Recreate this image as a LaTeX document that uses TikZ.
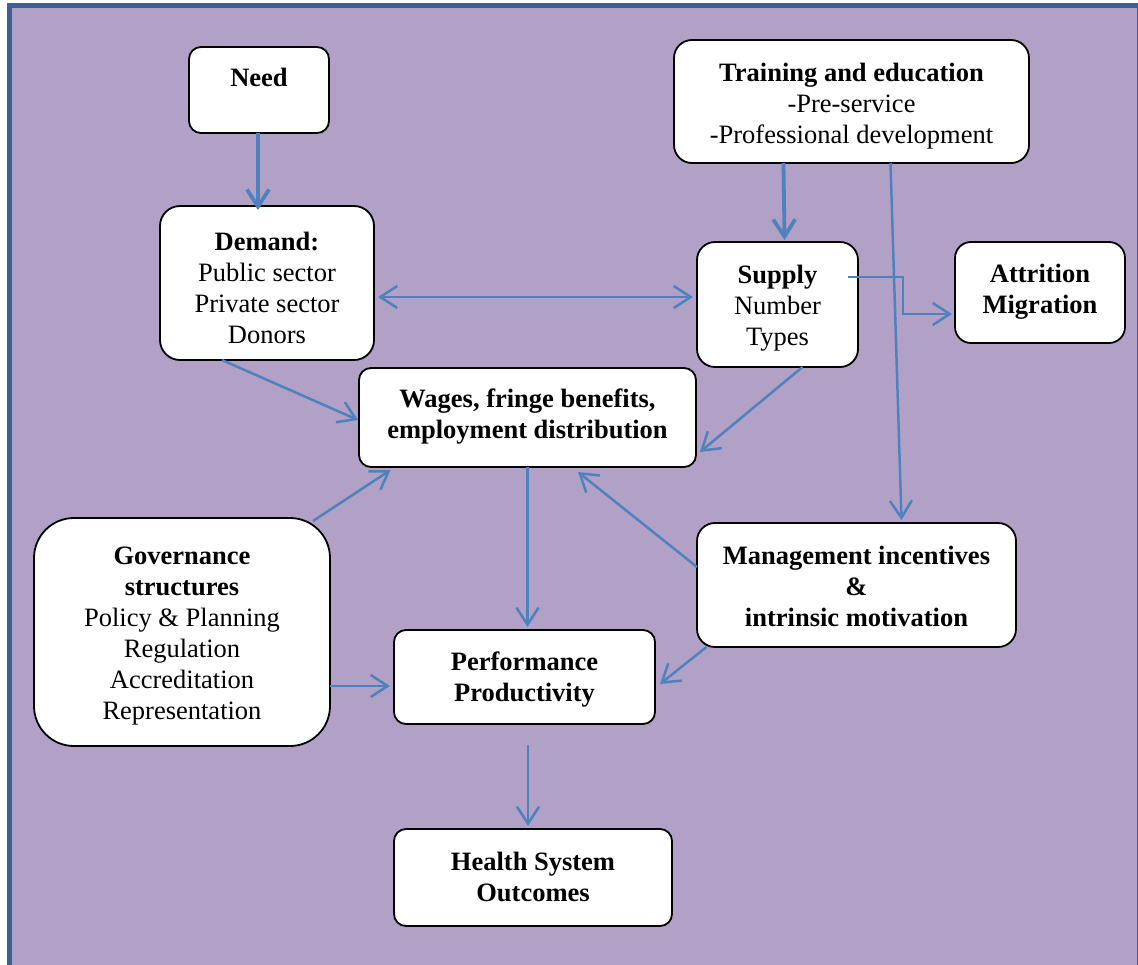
\documentclass[tikz,border=0pt]{standalone}
\usepackage{fontspec}
\setmainfont{Liberation Serif}
\usetikzlibrary{arrows.meta,calc}
\definecolor{bgpurple}{RGB}{177,161,199}
\definecolor{framebl}{RGB}{63,97,145}
\definecolor{arrowbl}{RGB}{79,129,189}
\newcommand\bxt[4]{\parbox[c][#2pt][t]{#1pt}{\centering\vspace*{#3pt}\strut #4}}
\tikzset{
  rbox/.style={draw=black, line width=1.8pt, fill=white, inner sep=0pt, outer sep=0pt,
    rounded corners=#1, anchor=north west, font=\fontsize{26.5}{31}\selectfont},
  rbox/.default=14pt,
  conn/.style={draw=arrowbl, line width=2.5pt, -{Straight Barb[length=17pt,width=22pt]}},
  connthick/.style={conn, line width=3.8pt},
  conntwo/.style={draw=arrowbl, line width=2.5pt, {Straight Barb[length=17pt,width=22pt]}-{Straight Barb[length=17pt,width=22pt]}},
}
\begin{document}
\begin{tikzpicture}[x=1pt,y=-1pt]
\useasboundingbox (0,0) rectangle (1138,964);
\clip (0,0) rectangle (1138,964);
\fill[bgpurple] (9.5,5.5) rectangle (1139.5,975);
\draw[framebl, line width=5pt] (9.5,5.5) rectangle (1139.5,975);

\node[rbox=12pt] (need) at (189,47) {\bxt{140}{86}{18}{\textbf{Need}}};
\node[rbox=18pt] (train) at (674,40) {\bxt{355}{123}{20}{\textbf{Training and education}\\-Pre-service\\-Professional development}};
\node[rbox=20pt] (demand) at (160,206) {\bxt{214}{154}{23}{\textbf{Demand:}\\Public sector\\Private sector\\Donors}};
\node[rbox=18pt] (supply) at (697,242) {\bxt{161}{125}{20}{\textbf{Supply}\\Number\\Types}};
\node[rbox=16pt] (attr) at (955,242) {\bxt{170}{101}{19}{\textbf{Attrition}\\\textbf{Migration}}};
\node[rbox=12pt] (wages) at (359,368) {\bxt{337}{99}{18}{\textbf{Wages, fringe benefits,}\\\textbf{employment distribution}}};
\node[rbox=40pt] (gov) at (34,518) {\bxt{296}{228}{25}{\textbf{Governance}\\\textbf{structures}\\Policy \& Planning\\Regulation\\Accreditation\\Representation}};
\node[rbox=18pt] (mgmt) at (697,523) {\bxt{319}{124}{20}{\textbf{Management incentives}\\\textbf{\&}\\\textbf{intrinsic motivation}}};
\node[rbox=12pt] (perf) at (394,630) {\bxt{261}{94}{19}{\textbf{Performance}\\\textbf{Productivity}}};
\node[rbox=12pt] (health) at (394,829) {\bxt{278}{97}{20}{\textbf{Health System}\\\textbf{Outcomes}}};

\draw[connthick] ([shift={(-1,0)}]need.south) -- ++(0,77);
\draw[connthick] ([shift={(-68,0)}]train.south) -- ([shift={(7,-2)}]supply.north);
\draw[conn] ([shift={(39,0)}]train.south) -- ([shift={(45,-3)}]mgmt.north);
\draw[conntwo] ([shift={(4,14)}]demand.east) -- ([shift={(-4,-7.5)}]supply.west);
\draw[conn] ([shift={(-10,-27.5)}]supply.east) -- ++(55,0) |- ([shift={(-3,21.5)}]attr.west);
\draw[conn] ([shift={(-45,0)}]demand.south) -- ([shift={(-1,2.5)}]wages.west);
\draw[conn] ([shift={(25,0)}]supply.south) -- ([shift={(4,34.5)}]wages.east);
\draw[conn] ([shift={(131,3)}]gov.north) -- ([shift={(-137,3)}]wages.south);
\draw[conn] (wages.south) -- ++(0,160);
\draw[conn] ([shift={(0,-18)}]mgmt.west) -- ([shift={(50.5,5)}]wages.south);
\draw[conn] ([shift={(-150,0)}]mgmt.south) -- ([shift={(5,7)}]perf.east);
\draw[conn] ([shift={(0,54)}]gov.east) -- ([shift={(-4,9)}]perf.west);
\draw[conn] ([shift={(3.5,21)}]perf.south) -- ([shift={(-5,-3)}]health.north);
\end{tikzpicture}
\end{document}
